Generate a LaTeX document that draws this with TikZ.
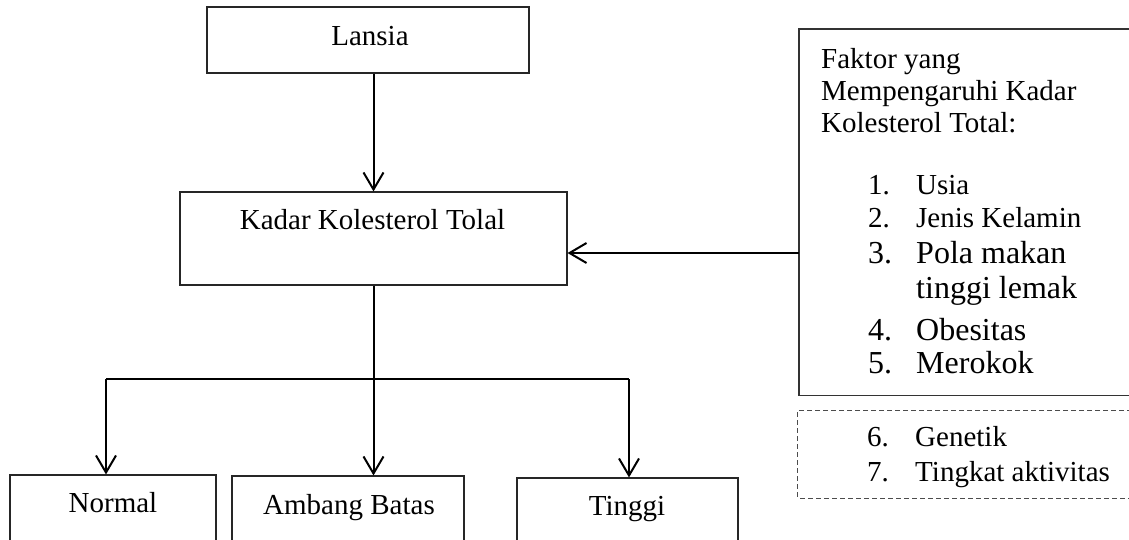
\documentclass[tikz,border=0pt]{standalone}
\usepackage{fontspec}
\setmainfont{Liberation Serif}
\usetikzlibrary{arrows.meta}
\tikzset{
  boxs/.style={draw=black!85, line width=1.1pt, rectangle, inner sep=0pt},
  txt/.style={anchor=base, inner sep=0pt, font=\fontsize{29pt}{33pt}\selectfont},
  itm/.style={anchor=base west, inner sep=0pt, font=\fontsize{29pt}{33pt}\selectfont},
  itmb/.style={anchor=base west, inner sep=0pt, font=\fontsize{32pt}{36pt}\selectfont},
  arr/.style={line width=2pt, -{Straight Barb[length=17pt,width=20pt,line width=2pt]}},
  conn/.style={line width=2pt},
}
\newcommand{\numb}[1]{\makebox[48pt][l]{#1}}
\begin{document}
\begin{tikzpicture}[x=1pt,y=-1pt]
\useasboundingbox (0,0) rectangle (1129,539);
\clip (0,0) rectangle (1129,539);
% boxes
\node[boxs, minimum width=322pt, minimum height=66pt] (lansia) at (368,40) {};
\node[txt] (tlansia) at (370,45) {Lansia};
\node[boxs, minimum width=387pt, minimum height=93pt] (kadar) at (373.5,238.5) {};
\node[txt] (tkadar) at (372.5,229) {Kadar Kolesterol Tolal};
\node[boxs, minimum width=206pt, minimum height=85pt] (normal) at (113,517.5) {};
\node[txt] (tnormal) at (113,512) {Normal};
\node[boxs, minimum width=232pt, minimum height=84pt] (ambang) at (348,518) {};
\node[txt] (tambang) at (349,514) {Ambang Batas};
\node[boxs, minimum width=221pt, minimum height=82pt] (tinggi) at (627.5,519) {};
\node[txt] (ttinggi) at (627,515) {Tinggi};
% factor box (open to the right)
\node[draw=none, minimum width=341pt, minimum height=366pt, inner sep=0pt] (faktor) at (969.5,212) {};
\draw[line width=1.4pt, black!80] (faktor.north east) -- (faktor.north west) -- (faktor.south west) -- (faktor.south east);
\node[itm] (f1) at (821,68) {Faktor yang};
\node[itm] (f2) at (821,100) {Mempengaruhi Kadar};
\node[itm] (f3) at (821,132) {Kolesterol Total:};
\node[itm] (i1) at (868,194) {\numb{1.}Usia};
\node[itm] (i2) at (868,227) {\numb{2.}Jenis Kelamin};
\node[itmb] (i3) at (868,263) {\numb{3.}Pola makan};
\node[itmb] (i3b) at (916,298) {tinggi lemak};
\node[itmb] (i4) at (868,340) {\numb{4.}Obesitas};
\node[itmb] (i5) at (868,373) {\numb{5.}Merokok};
% dashed box
\node[draw=none, minimum width=342pt, minimum height=87pt, inner sep=0pt] (extra) at (969,454.5) {};
\draw[line width=1.1pt, black!70, dash pattern=on 5pt off 3pt] (extra.north east) -- (extra.north west) -- (extra.south west) -- (extra.south east);
\node[itm] (i6) at (867,446) {\numb{6.}Genetik};
\node[itm] (i7) at (867,481) {\numb{7.}Tingkat aktivitas};
% connectors
\draw[arr] (kadar.north |- lansia.south) -- (kadar.north);
\coordinate (fa) at (799,253);
\draw[arr] (fa) -- (fa -| kadar.east);
\coordinate (nl) at (106,379);
\coordinate (tl) at (629,379);
\draw[conn] (nl) -- (tl);
\draw[arr] (kadar.south) -- (kadar.south |- ambang.north);
\draw[arr] (nl) -- (nl |- normal.north);
\draw[arr] (tl) -- (tl |- tinggi.north);
\end{tikzpicture}
\end{document}
